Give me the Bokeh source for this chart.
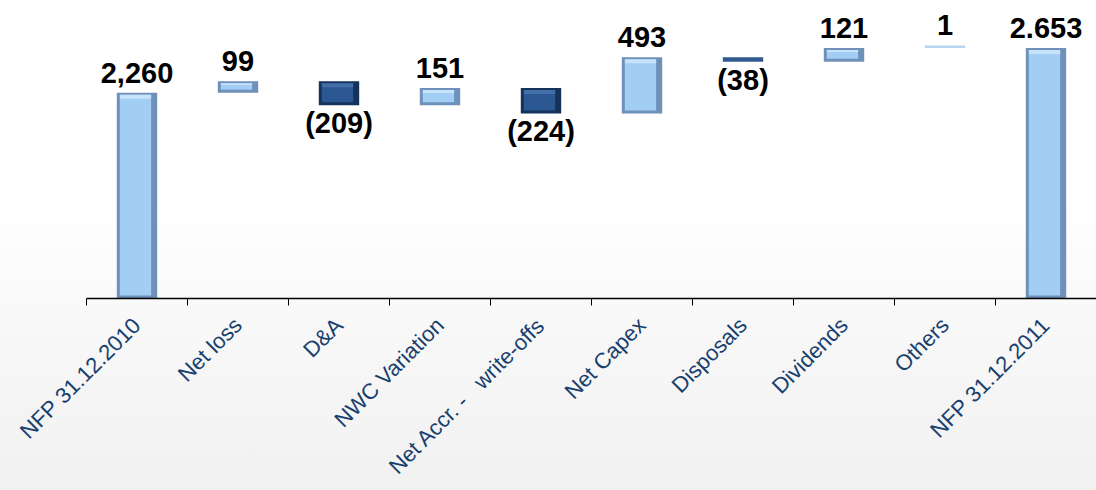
from bokeh.plotting import figure
from bokeh.models import Range1d, FixedTicker, ColumnDataSource
from bokeh.core.properties import value
from bokeh.embed import file_html
from bokeh.resources import INLINE

categories = ["NFP 31.12.2010", "Net loss", "D&A", "NWC Variation",
              "Net Accr. -\u00a0\u00a0 write-offs", "Net Capex", "Disposals",
              "Dividends", "Others", "NFP 31.12.2011"]
values = [2260, 99, -209, 151, -224, 493, -38, 121, 1, 2653]
is_total = [True, False, False, False, False, False, False, False, False, True]
value_labels = ["2,260", "99", "(209)", "151", "(224)", "493", "(38)", "121", "1", "2.653"]

# waterfall geometry computed from the data
xs, bottoms, tops = [], [], []
running = 0
for i, (v, tot) in enumerate(zip(values, is_total)):
    xs.append(i + 0.5)
    if tot:
        bottoms.append(0)
        tops.append(v)
        running = v
    else:
        lo, hi = sorted([running, running + v])
        bottoms.append(lo)
        tops.append(hi)
        running += v

Y0, Y1 = 450, 3070
FRAME_H = 298
upx = (Y1 - Y0) / FRAME_H  # data units per pixel

pos = [v >= 0 or t for v, t in zip(values, is_total)]
edge_col = ["#6E90B9" if p_ else "#15325B" for p_ in pos]
fill_col = ["#A2CDF4" if p_ else "#2B5792" for p_ in pos]
hi_col = ["#CFE8FC" if p_ else "#4A74AC" for p_ in pos]

# ensure tiny bars remain visible (Others = 1)
disp_top = []
for b, t in zip(bottoms, tops):
    disp_top.append(max(t, b + 2.5 * upx))
thin = [(t - b) / upx < 8 for b, t in zip(bottoms, disp_top)]
edge_col = ["#B7D6F2" if (th and p_) else e for th, p_, e in zip(thin, pos, edge_col)]
edge_col = ["#2E5A90" if (th and not p_) else e for th, p_, e in zip(thin, pos, edge_col)]

src = ColumnDataSource(dict(x=xs, bottom=bottoms, top=disp_top, edge=edge_col,
                            fill=fill_col, hi=hi_col))

inner = dict(x=[], bottom=[], top=[], fill=[], hi_b=[], hi_t=[], hi=[])
for x, b, t, f, h, th in zip(xs, bottoms, disp_top, fill_col, hi_col, thin):
    if th:
        continue
    ib = max(b, Y0) + 3 * upx
    it = t - 2 * upx
    inner["x"].append(x - 0.015)
    inner["bottom"].append(ib)
    inner["top"].append(it)
    inner["fill"].append(f)
    inner["hi_t"].append(it)
    inner["hi_b"].append(it - min(0.25 * (it - ib), 4 * upx))
    inner["hi"].append(h)
isrc = ColumnDataSource(inner)

p = figure(width=1096, height=490, x_range=Range1d(0, 10), y_range=Range1d(Y0, Y1),
           output_backend="svg", toolbar_location=None,
           min_border_left=86, min_border_right=0, min_border_top=0,
           min_border_bottom=190)
p.styles = {"background": "linear-gradient(to bottom, #ffffff 0%, #ffffff 42%, #f9f9f9 62%, #f1f1f1 100%)"}
p.background_fill_alpha = 0
p.border_fill_alpha = 0
p.outline_line_color = None
p.xgrid.visible = False
p.ygrid.visible = False
p.yaxis.visible = False

p.vbar(x="x", bottom="bottom", top="top", width=0.4, source=src,
       fill_color="edge", line_color=None)
p.vbar(x="x", bottom="bottom", top="top", width=0.31, source=isrc,
       fill_color="fill", line_color=None)
p.vbar(x="x", bottom="hi_b", top="hi_t", width=0.31, source=isrc,
       fill_color="hi", line_color=None, fill_alpha=0.8)

# value labels
lab_x, lab_y, lab_off, lab_txt, lab_base = [], [], [], [], []
for x, b, t, v, tot, s in zip(xs, bottoms, disp_top, values, is_total, value_labels):
    lab_x.append(x)
    lab_txt.append(s)
    if v >= 0 or tot:
        lab_y.append(t)
        lab_off.append(-20)
        lab_base.append("alphabetic")
    else:
        lab_y.append(b)
        lab_off.append(2)
        lab_base.append("top")
lsrc = ColumnDataSource(dict(x=lab_x, y=lab_y, off=lab_off, txt=lab_txt, base=lab_base))
p.text(x="x", y="y", text="txt", y_offset="off", source=lsrc,
       text_font=value("Liberation Sans"), text_font_style="bold",
       text_font_size="29px", text_color="#000000", text_align="center",
       text_baseline="base")

ax = p.xaxis[0]
ax.ticker = FixedTicker(ticks=xs, minor_ticks=list(range(len(categories) + 1)))
ax.major_label_overrides = {x: c for x, c in zip(xs, categories)}
ax.major_label_orientation = 0.785398
ax.major_tick_line_color = None
ax.major_tick_out = 0
ax.major_tick_in = 0
ax.minor_tick_line_color = "#000000"
ax.minor_tick_out = 7
ax.minor_tick_in = 0
ax.axis_line_color = "#000000"
ax.axis_line_width = 1.5
ax.major_label_standoff = 16
ax.major_label_text_font = "Liberation Sans"
ax.major_label_text_font_size = "22px"
ax.major_label_text_line_height = 1.0
ax.major_label_text_color = "#17406E"

open("out.html", "w").write(file_html(p, INLINE))
